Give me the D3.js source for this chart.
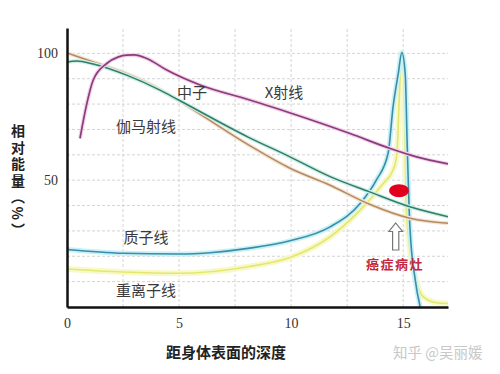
<!DOCTYPE html>
<html>
<head>
<meta charset="utf-8">
<script src="https://cdn.jsdelivr.net/npm/d3@7"></script>
<style>
  body { margin: 0; background: #fff; }
  svg { display: block; }
</style>
</head>
<body>
<div class="chart"></div>
<script>
// values (depth in cm, relative energy in %)
const xrayX = [0.58, 0.88, 1.17, 1.77, 2.3, 2.66, 3.0, 3.56, 4.45, 5.94, 8.08, 10, 12.63, 14.42, 15.6, 17];
const xrayY = [66.5, 80, 89.5, 96, 98.6, 99.3, 99.4, 98, 93.4, 87.5, 81.8, 76.4, 68.4, 62.5, 59.2, 56.4];

const greenX = [0, 0.43, 1.17, 2.66, 4.15, 5, 8.08, 9.95, 11.74, 13.5, 15.3, 17];
const greenY = [96.6, 97, 95.8, 91.4, 85.5, 81.5, 67, 59.2, 51.4, 45.4, 39.5, 35.6];

const tanX = [0, 1.17, 2.66, 4.15, 5, 8.08, 9.95, 11.74, 13.5, 15.3, 17];
const tanY = [100.2, 96.6, 92, 85.8, 81.3, 64, 54.7, 48, 40.5, 35, 33];

const protonX = [0, 2.5, 4.96, 6.5, 8.08, 9.95, 11.74, 13.08, 13.8, 14.33, 14.55, 14.78, 14.94, 15.09, 15.19, 15.3, 15.54, 15.76];
const protonY = [22.7, 21.2, 20.9, 21.5, 23.1, 26.1, 31.6, 40.8, 50, 60.7, 79, 92, 100.3, 92, 60.5, 31.6, 10.6, 0];

const ionX = [0, 2.5, 4.96, 8.08, 9.95, 11.74, 13.08, 14.12, 14.55, 14.72, 14.84, 14.94, 15.04, 15.09, 15.13, 15.24, 15.39, 15.61, 15.9, 16.5, 17];
const ionY = [15, 13.8, 13.3, 15.9, 19.5, 27.7, 38.2, 48.8, 54, 60.5, 85.5, 100, 85.5, 60.5, 40.8, 27.7, 17.2, 9.3, 4, 1.7, 1.4];

const xTicks = [0, 5, 10, 15];
const yTicks = [50, 100];
const xGrid = [2.5, 5, 7.5, 10, 12.5, 15];
const yGrid = [10, 20, 30, 40, 50, 60, 70, 80, 90, 100];

const w = 500;
const h = 374;

const svg = d3.select(".chart")
  .append("svg")
  .attr("width", w)
  .attr("height", h)
  .style("background-color", "white");

const x = d3.scaleLinear().domain([0, 17]).range([67, 448]);
const y = d3.scaleLinear().domain([0, 110]).range([307, 28]);

// dashed grid
svg.selectAll(".hgrid")
  .data(yGrid)
  .enter()
  .append("line")
  .attr("x1", x(0)).attr("x2", x(17))
  .attr("y1", d => y(d)).attr("y2", d => y(d))
  .attr("stroke", "#d4d4d4")
  .attr("stroke-width", 1)
  .attr("stroke-dasharray", "3,2");

svg.selectAll(".vgrid")
  .data(xGrid)
  .enter()
  .append("line")
  .attr("x1", d => x(d)).attr("x2", d => x(d))
  .attr("y1", y(0)).attr("y2", y(110))
  .attr("stroke", "#d4d4d4")
  .attr("stroke-width", 1)
  .attr("stroke-dasharray", "3,2");

// curves: pale halo first, then the line
const line = d3.line()
  .x(d => x(d[0]))
  .y(d => y(d[1]))
  .curve(d3.curveMonotoneX);

const series = [
  { xs: ionX, ys: ionY, color: "#e4e86a", glow: "#f7f9cc", gw: 6, lw: 1.6 },
  { xs: protonX, ys: protonY, color: "#3a8ea6", glow: "#c9f1f7", gw: 5, lw: 1.6 },
  { xs: tanX, ys: tanY, color: "#b48a60", glow: "#f3e5d6", gw: 4, lw: 1.5 },
  { xs: greenX, ys: greenY, color: "#2f7d6a", glow: "#d2efe6", gw: 4, lw: 1.5 },
  { xs: xrayX, ys: xrayY, color: "#8a3c7c", glow: "#f3d2e9", gw: 4, lw: 1.7 }
];

series.forEach(function(s) {
  const pts = s.xs.map((v, i) => [v, s.ys[i]]);
  svg.append("path")
    .attr("d", line(pts))
    .attr("fill", "none")
    .attr("stroke", s.glow)
    .attr("stroke-width", s.gw)
    .attr("stroke-linejoin", "round");
  svg.append("path")
    .attr("d", line(pts))
    .attr("fill", "none")
    .attr("stroke", s.color)
    .attr("stroke-width", s.lw)
    .attr("stroke-linejoin", "round");
});

// axes
const xAxis = d3.axisBottom(x).tickValues(xTicks).tickSize(0).tickPadding(11);
const yAxis = d3.axisLeft(y).tickValues(yTicks).tickSize(0).tickPadding(9);

const gx = svg.append("g").attr("transform", "translate(0," + y(0) + ")").call(xAxis);
const gy = svg.append("g").attr("transform", "translate(" + x(0) + ",0)").call(yAxis);

[gx, gy].forEach(function(g) {
  g.select(".domain").attr("stroke", "#111").attr("stroke-width", 2.5);
  g.selectAll("text")
    .attr("fill", "#333")
    .style("font-family", "'Liberation Serif', serif")
    .style("font-size", "14px");
});

// curve names
const names = [
  ["中子", 192, 98],
  ["X射线", 284, 98],
  ["伽马射线", 146, 132],
  ["质子线", 146, 243],
  ["重离子线", 146, 296]
];
svg.selectAll(".name")
  .data(names)
  .enter()
  .append("text")
  .attr("x", d => d[1])
  .attr("y", d => d[2])
  .attr("text-anchor", "middle")
  .attr("fill", "#3a3a3a")
  .style("font-family", "'Noto Sans CJK SC', sans-serif")
  .style("font-size", "15px")
  .text(d => d[0]);

// tumour spot, arrow and its label
svg.append("ellipse")
  .attr("cx", 399).attr("cy", 190.7)
  .attr("rx", 10).attr("ry", 6.5)
  .attr("fill", "#e2001c");

svg.append("path")
  .attr("d", "M395.7,223 L402.5,231.5 L398.8,231.5 L398.8,250 L392.6,250 L392.6,231.5 L388.9,231.5 Z")
  .attr("fill", "white")
  .attr("stroke", "#777")
  .attr("stroke-width", 1.2);

svg.append("text")
  .attr("x", 395).attr("y", 269)
  .attr("text-anchor", "middle")
  .attr("fill", "#c4283e")
  .style("font-family", "'Noto Sans CJK SC', sans-serif")
  .style("font-size", "13px")
  .style("font-weight", "bold")
  .style("letter-spacing", "1.5px")
  .text("癌症病灶");

// vertical y title
svg.append("text")
  .attr("x", 18).attr("y", 124)
  .attr("fill", "#222")
  .style("writing-mode", "vertical-rl")
  .style("font-family", "'Noto Sans CJK SC', sans-serif")
  .style("font-size", "14px")
  .style("font-weight", "bold")
  .style("letter-spacing", "2.5px")
  .text("相对能量（%）");

svg.append("text")
  .attr("x", 226).attr("y", 358)
  .attr("text-anchor", "middle")
  .attr("fill", "#222")
  .style("font-family", "'Noto Sans CJK SC', sans-serif")
  .style("font-size", "15px")
  .style("font-weight", "bold")
  .text("距身体表面的深度");

// watermark
svg.append("text")
  .attr("x", 393).attr("y", 358)
  .attr("fill", "#c8c8c8")
  .style("font-family", "'Noto Sans CJK SC', sans-serif")
  .style("font-size", "14.5px")
  .text("知乎 @吴丽媛");
</script>
</body>
</html>
